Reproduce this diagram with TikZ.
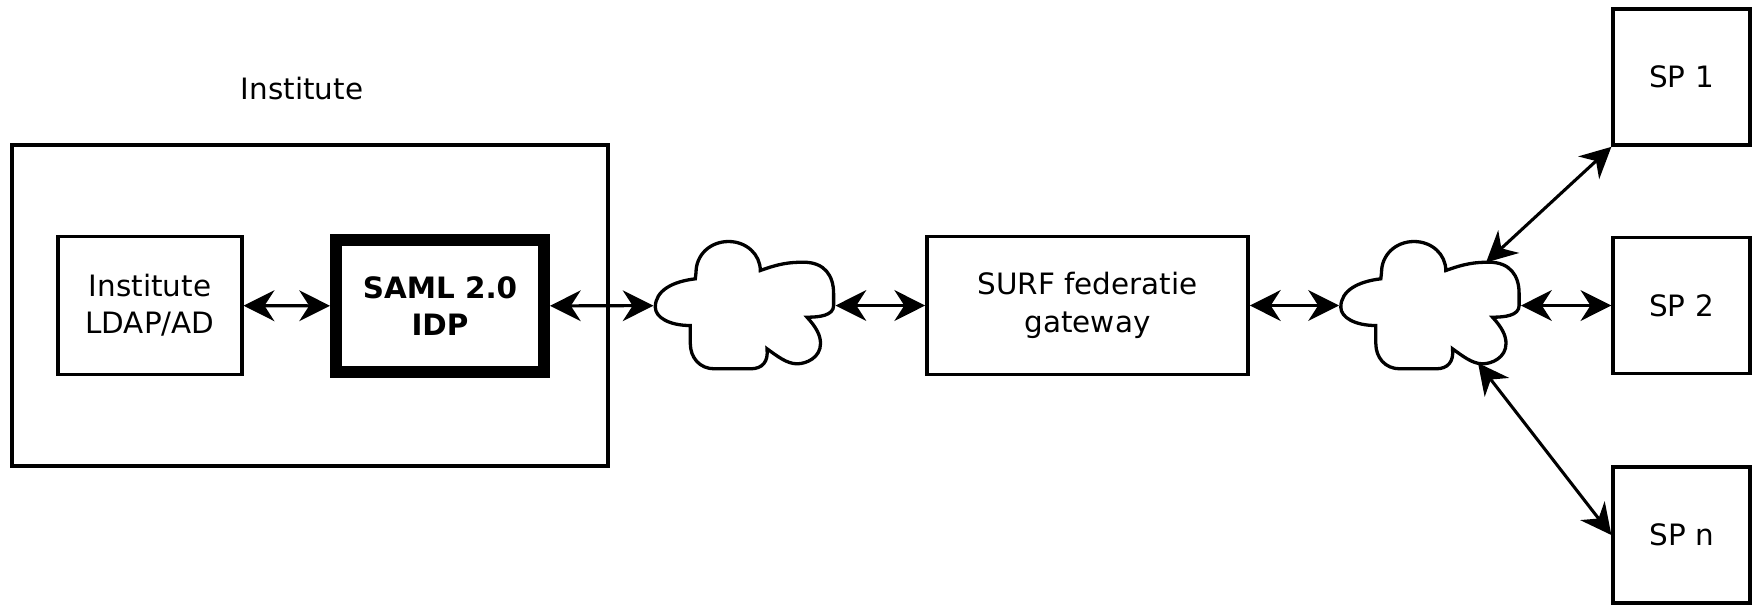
\documentclass[tikz,border=0pt]{standalone}
\usepackage{fontspec}
\setmainfont{DejaVu Sans}
\usetikzlibrary{arrows.meta,shapes.geometric}
\newcommand{\boxfont}{\fontsize{13.4}{17}\selectfont}

\tikzset{
    pics/wolk/.style={code={
        \draw[line width=1.5pt, fill=white] (-49.2,-26.7) -- (-48.5,-33)
            .. controls (-48.5,-51) and (-34,-64) .. (-16,-64)
            .. controls (2,-64) and (15.8,-51) .. (15.8,-35)
            .. controls (35,-42) and (45,-43.3) .. (59.1,-43.3)
            .. controls (80,-43.3) and (89.1,-30) .. (89.1,-12) -- (89.1,0)
            .. controls (89.1,10) and (75,11.7) .. (62.5,11.7)
            .. controls (72,22) and (76,30) .. (76,38)
            .. controls (76,52) and (62,58.3) .. (52.5,58.3)
            .. controls (42,58.3) and (32,50) .. (22.5,43.3)
            .. controls (24,56) and (18,63.3) .. (6,63.3) -- (-30,63.3)
            .. controls (-45,63.3) and (-54.2,52) .. (-54.2,38) -- (-54.2,20)
            .. controls (-75,20) and (-89.2,12) .. (-89.2,1.7)
            .. controls (-89.2,-15) and (-72,-24) .. cycle;
        \coordinate (-ne) at (56,-43);
        \coordinate (-se) at (48,57.5);
    }}
}

\begin{document}
\begin{tikzpicture}[x=0.016cm, y=-0.016cm,
    box/.style={rectangle, draw, line width=1.6pt, minimum width=2.94cm, minimum height=2.21cm, align=center, font=\boxfont},
    spbox/.style={box, minimum width=2.19cm, minimum height=2.18cm},
    wolkrand/.style={ellipse, minimum width=2.86cm, minimum height=2.04cm, inner sep=0pt, outer sep=0.75pt},
    link/.style={{Stealth[length=14pt,width=14pt,inset=4.5pt]}-{Stealth[length=14pt,width=14pt,inset=4.5pt]}, line width=1.4pt}]
    \useasboundingbox (0,0) rectangle (1752,605);
    \node[font=\boxfont] (instlabel) at (302,89) {Institute};
    \node[box, minimum width=9.54cm, minimum height=5.14cm] (inst) at (310,305.5) {};
    \node[box] (ldap) at (150,305.5) {Institute\\LDAP/AD};
    \node[box, line width=5.4pt, minimum width=3.33cm, minimum height=2.1cm, font=\boxfont\bfseries] (idp) at (440,306) {SAML 2.0\\IDP};
    \node[wolkrand] (net1) at (744.5,305.5) {};
    \pic (net1) at (net1) {wolk};
    \node[box, minimum width=5.14cm] (surf) at (1087.5,305.5) {SURF federatie\\gateway};
    \node[wolkrand] (net2) at (1430,305.5) {};
    \pic (net2) at (net2) {wolk};
    \node[spbox] (sp1) at (1681.5,77) {SP 1};
    \node[spbox] (sp2) at (1681.5,305.5) {SP 2};
    \node[spbox] (spn) at (1681.5,535) {SP n};
    \draw[link] (ldap) -- (idp);
    \draw[link] (idp) -- (net1);
    \draw[link] (net1) -- (surf);
    \draw[link] (surf) -- (net2);
    \draw[link] (net2) -- (sp2);
    \draw[link] (net2-ne) -- (sp1.south west);
    \draw[link] (net2-se) -- (spn.west);
\end{tikzpicture}
\end{document}
